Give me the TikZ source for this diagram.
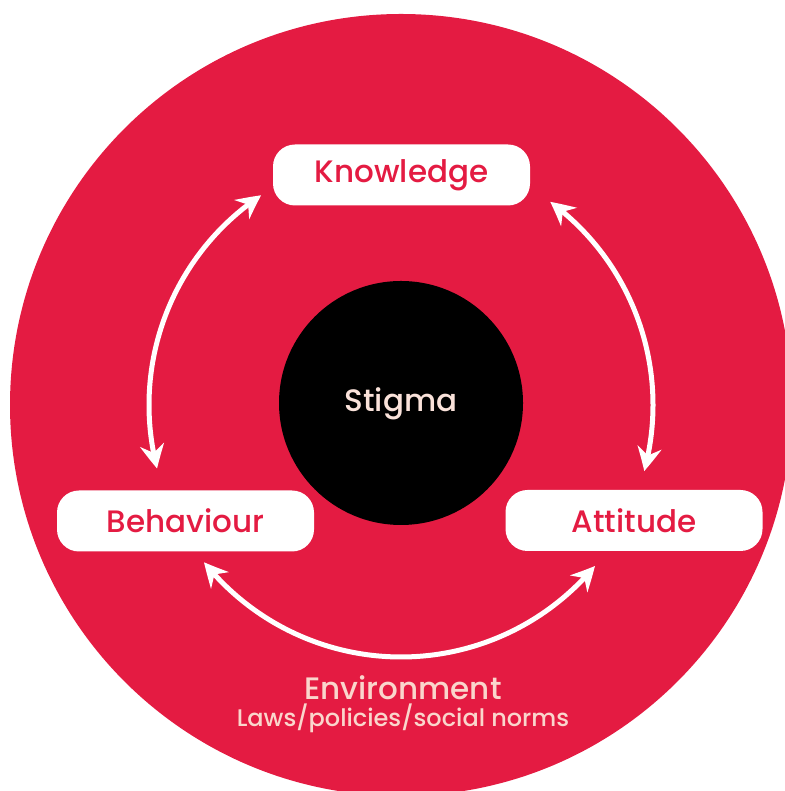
\documentclass[tikz,border=0pt]{standalone}
\usepackage{fontspec}
\setmainfont{Poppins}[UprightFont = * Medium]
\usetikzlibrary{arrows.meta,bending,positioning}
\definecolor{ringRed}{RGB}{228,27,66}
\definecolor{paleText}{RGB}{250,214,204}
\definecolor{stigmaText}{RGB}{250,226,218}
\tikzstyle{pixels} = [x = 0.5pt, y = 0.5pt]
\tikzstyle{factorBox} = [fill=white, rounded corners = 11pt, minimum width = 128.5pt, minimum height = 30.5pt, text=ringRed, font=\fontsize{15.5}{19}\selectfont]
\tikzset{cycleArrow/.style = {white, line width = 2.5pt, >={Stealth[length = 12pt, width = 12pt, inset = 4pt, bend]}, <->}}
\newcommand{\ringRadius}{252}

\begin{document}
\begin{tikzpicture}[pixels]
  \useasboundingbox (0,0) rectangle (785,791);
  \clip (0,0) rectangle (785,791);
  \coordinate (hub) at (401,386);

  % outer disc and the black core
  \fill [ringRed] (hub) circle [radius = 391];
  \fill [black] (401,388) circle [radius = 122];
  \node (stigma) [text=stigmaText, font=\fontsize{15.5}{19}\selectfont] at (401,387) {Stigma};

  % the three factors
  \node (knowledge) [factorBox] at (401.5,616) {Knowledge};
  \node (behaviour) [factorBox] at (185.5,270) {Behaviour};
  \node (attitude)  [factorBox] at (634,270.5) {Attitude};

  % ends of the arrows on the ring
  \coordinate (knowledgeLeft)  at ([shift={(hub)}] 123.7:\ringRadius);
  \coordinate (knowledgeRight) at ([shift={(hub)}] 53.7:\ringRadius);
  \coordinate (behaviourBottom) at ([shift={(hub)}] 218.6:\ringRadius);

  \draw [cycleArrow] (knowledgeLeft) arc [start angle = 123.7, end angle = 194.6, radius = \ringRadius];
  \draw [cycleArrow] (knowledgeRight) arc [start angle = 53.7, end angle = -15.2, radius = \ringRadius];
  \draw [cycleArrow] (behaviourBottom) arc [start angle = 218.6, end angle = 320.3, radius = \ringRadius];

  % surrounding context
  \node (environment) [text=paleText, font=\fontsize{15.5}{19}\selectfont] at (403,103) {Environment};
  \node (laws) [text=paleText, font=\fontsize{12}{14}\selectfont, below = -3pt of environment, inner sep=1pt] {Laws/policies/social norms};
\end{tikzpicture}
\end{document}
